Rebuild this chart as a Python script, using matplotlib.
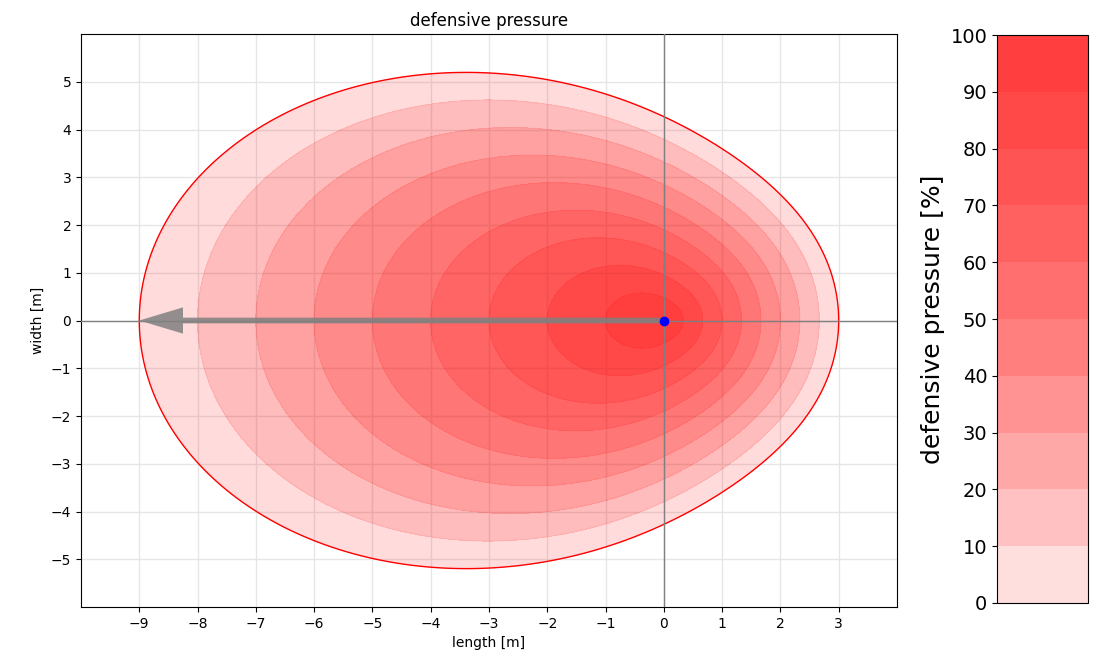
import matplotlib
matplotlib.use("Agg")
import matplotlib.pyplot as plt
import numpy as np
from matplotlib.colors import ListedColormap, BoundaryNorm
from matplotlib.cm import ScalarMappable

# pressure zone (metres)
d_front = 9.0    # reach towards the threat (arrow direction)
d_back = 3.0     # reach behind the presser
threat = [-9.0, 0.0]
presser = [0.0, 0.0]

fill_levels = np.linspace(0, 100, 10)        # 9 stacked bands in the plot
cbar_bounds = [0, 10, 20, 30, 40, 50, 60, 70, 80, 90, 100]
x_ticks = [-9, -8, -7, -6, -5, -4, -3, -2, -1, 0, 1, 2, 3]
y_ticks = [-5, -4, -3, -2, -1, 0, 1, 2, 3, 4, 5]

# pressure field
xs = np.linspace(-10, 4, 700)
ys = np.linspace(-6, 6, 600)
X, Y = np.meshgrid(xs, ys)
dist = np.hypot(X, Y)
dist[dist == 0] = 1e-9
cos_t = -X / dist
z = (1 + cos_t) / 2
L = d_back + (d_front - d_back) * (z**3 + 0.3 * z) / 1.3
P = 100 * (1 - dist / L)

fig = plt.figure(figsize=(10.96, 6.58), dpi=100)
ax = fig.add_axes([0.0739, 0.0775, 0.7445, 0.8708])

for lev in fill_levels[:-1]:
    ax.contourf(X, Y, P, levels=[lev, 1000], colors="red", alpha=0.14)
ax.contour(X, Y, P, levels=fill_levels[1:-1], colors="red", linewidths=0.8, alpha=0.08)
ax.contour(X, Y, P, levels=[0], colors="red", linewidths=1)

ax.axhline(0, color="gray", lw=1, zorder=3)
ax.axvline(0, color="gray", lw=1, zorder=3)
ax.arrow(presser[0], presser[1], threat[0] - presser[0], threat[1] - presser[1],
         width=0.12, head_width=0.55, head_length=0.75, length_includes_head=True,
         color="gray", alpha=0.85, zorder=4, lw=0)
ax.plot(presser[0], presser[1], "o", color="blue", ms=6, zorder=5)

ax.set_xlim(-10, 4)
ax.set_ylim(-6, 6)
ax.set_xticks(x_ticks)
ax.set_yticks(y_ticks)
ax.grid(True, color="#e6e6e6", lw=1)
ax.set_axisbelow(True)
ax.set_xlabel("length [m]")
ax.set_ylabel("width [m]")
ax.set_title("defensive pressure", fontsize=12)

# colorbar
a = 0.13
cols = [(1.0, (1 - a) ** k, (1 - a) ** k) for k in range(1, len(cbar_bounds))]
cmap = ListedColormap(cols)
norm = BoundaryNorm(cbar_bounds, cmap.N)
cax = fig.add_axes([0.9097, 0.0836, 0.083, 0.863])
cb = fig.colorbar(ScalarMappable(norm=norm, cmap=cmap), cax=cax, ticks=cbar_bounds)
cax.yaxis.set_ticks_position("left")
cax.yaxis.set_label_position("left")
cax.tick_params(labelsize=14)
cb.set_label("defensive pressure [%]", fontsize=18)

plt.savefig("out.png", dpi=100)
